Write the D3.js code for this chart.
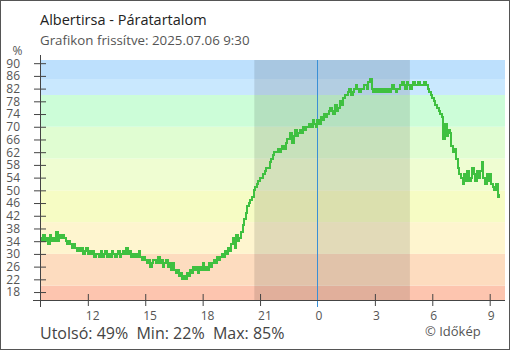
<!DOCTYPE html>
<html>
<head>
<meta charset="utf-8">
<script src="https://cdn.jsdelivr.net/npm/d3@7"></script>
<style>
  body { margin: 0; background: #fff; }
  text { font-family: "Open Sans", "Noto Sans", sans-serif; }
</style>
</head>
<body>
<script>
// humidity (%) every 5 minutes, 2025.07.05 9:30 -> 2025.07.06 9:30
const startHour = 9.5;
const stepHours = 1 / 12;
const humidity = [
  35, 34, 36, 34, 35, 33, 36, 34, 35, 34, 37, 34,   // 9:30
  36, 35, 36, 35, 34, 33, 34, 33, 32, 33, 32, 31,   // 10:30
  32, 31, 32, 30, 31, 32, 30, 31, 30, 31, 29, 30,   // 11:30
  30, 29, 31, 29, 30, 31, 29, 30, 29, 31, 30, 29,   // 12:30
  30, 31, 29, 30, 31, 30, 32, 30, 31, 29, 30, 29,   // 13:30
  30, 29, 31, 29, 28, 29, 28, 27, 28, 26, 27, 28,   // 14:30
  28, 27, 29, 27, 28, 26, 27, 28, 26, 27, 25, 27,   // 15:30
  25, 24, 25, 23, 24, 22, 23, 22, 24, 23, 25, 24,   // 16:30
  26, 25, 26, 24, 26, 25, 27, 25, 26, 25, 27, 26,   // 17:30
  27, 28, 27, 29, 28, 29, 30, 29, 31, 30, 32, 31,   // 18:30
  33, 35, 32, 36, 34, 35, 37, 39, 41, 43, 45, 46,   // 19:30
  47, 48, 50, 51, 52, 53, 54, 54, 55, 56, 57, 57,   // 20:30
  59, 60, 61, 62, 62, 63, 62, 63, 64, 63, 65, 66,   // 21:30
  66, 68, 65, 67, 69, 67, 68, 69, 68, 70, 69, 70,   // 22:30
  70, 71, 70, 72, 71, 70, 72, 71, 73, 72, 74, 73,   // 23:30
  74, 75, 76, 75, 74, 77, 75, 76, 78, 77, 79, 80,   // 0:30
  80, 81, 82, 80, 81, 82, 83, 82, 81, 82, 82, 83,   // 1:30
  83, 82, 84, 85, 82, 81, 82, 81, 82, 81, 82, 81,   // 2:30
  82, 81, 82, 81, 82, 83, 82, 81, 82, 82, 83, 84,   // 3:30
  83, 82, 84, 83, 82, 83, 84, 83, 83, 84, 83, 83,   // 4:30
  83, 84, 83, 82, 81, 80, 79, 78, 77, 76, 75, 74,   // 5:30
  73, 66, 71, 67, 69, 68, 64, 62, 63, 60, 57, 55,   // 6:30
  54, 52, 55, 53, 56, 53, 54, 57, 55, 53, 56, 54,   // 7:30
  56, 59, 54, 52, 55, 53, 55, 52, 51, 50, 52, 48,   // 8:30
  49                                                // 9:30
];

const xTickValues = [12, 15, 18, 21, 24, 27, 30, 33];
const xTickLabels = ["12", "15", "18", "21", "0", "3", "6", "9"];
const yTickValues = d3.range(18, 91, 4);

// colour bands behind the plot
const bandEdges = [15.5, 20, 30, 40, 50, 60, 70, 80, 85, 91];
const bandColors = ["#fdc5af", "#fddcbf", "#fef5cf", "#f6fcc4", "#effdd2",
                    "#e0fdd2", "#ccfdd8", "#c9e8fe", "#bde0fd"];

// night (sunset 20:42, sunrise 4:50)
const night = [20.7, 28.83];

const width = 510, height = 350;
const plotLeft = 40, plotRight = 505, plotTop = 60, plotBottom = 300;

const x = d3.scaleLinear().domain([9.5, 33.8]).range([plotLeft, plotRight]);
const y = d3.scaleLinear().domain([15.5, 91]).range([plotBottom, plotTop]);

const svg = d3.select("body").append("svg")
    .attr("width", width)
    .attr("height", height);

svg.append("rect")
    .attr("x", 0.5).attr("y", 0.5)
    .attr("width", width - 1).attr("height", height - 1)
    .attr("fill", "#fff").attr("stroke", "#555");

// bands
svg.append("g").selectAll("rect")
    .data(bandColors)
    .join("rect")
    .attr("x", plotLeft)
    .attr("width", plotRight - plotLeft)
    .attr("y", (d, i) => y(bandEdges[i + 1]))
    .attr("height", (d, i) => y(bandEdges[i]) - y(bandEdges[i + 1]))
    .attr("fill", d => d);

// night shading
svg.append("rect")
    .attr("x", x(night[0]))
    .attr("width", x(night[1]) - x(night[0]))
    .attr("y", plotTop)
    .attr("height", plotBottom - plotTop)
    .attr("fill", "rgba(0,0,0,0.11)");

// midnight line
svg.append("line")
    .attr("x1", Math.round(x(24)) + 0.5).attr("x2", Math.round(x(24)) + 0.5)
    .attr("y1", plotTop).attr("y2", plotBottom + 7)
    .attr("stroke", "#3a8fd6").attr("stroke-width", 1);

// humidity line
const line = d3.line()
    .x((d, i) => x(startHour + i * stepHours))
    .y(d => y(d))
    .curve(d3.curveStepAfter);

svg.append("path")
    .datum(humidity)
    .attr("fill", "none")
    .attr("stroke", "#3fc040")
    .attr("stroke-width", 2)
    .attr("shape-rendering", "crispEdges")
    .attr("d", line);

// y axis
const yAxis = svg.append("g")
    .attr("transform", "translate(" + plotLeft + ",0)")
    .call(d3.axisLeft(y).tickValues(yTickValues).tickSize(6).tickPadding(14));
yAxis.select(".domain").remove();
yAxis.selectAll(".tick line").attr("x1", -6).attr("x2", 6).attr("stroke", "#444");
yAxis.selectAll(".tick text")
    .attr("fill", "#555").style("font-size", "12px");

svg.append("line")
    .attr("x1", plotLeft + 0.5).attr("x2", plotLeft + 0.5)
    .attr("y1", 55).attr("y2", plotBottom + 7)
    .attr("stroke", "#444");

// x axis
const xAxis = svg.append("g")
    .attr("transform", "translate(0," + plotBottom + ")")
    .call(d3.axisBottom(x).tickValues(xTickValues)
        .tickFormat((d, i) => xTickLabels[i]).tickSize(6));
xAxis.select(".domain").remove();
xAxis.selectAll(".tick line").attr("y1", -6).attr("y2", 6).attr("stroke", "#444");
xAxis.selectAll(".tick").filter(d => d === 24).select("line").remove();
xAxis.selectAll(".tick text")
    .attr("text-anchor", "start").attr("x", -2.5)
    .attr("y", 11.5)
    .attr("fill", "#555").style("font-size", "12px");

svg.append("line")
    .attr("x1", 33).attr("x2", plotRight)
    .attr("y1", plotBottom + 0.5).attr("y2", plotBottom + 0.5)
    .attr("stroke", "#444");

svg.append("text")
    .attr("x", 12.5).attr("y", 55)
    .attr("fill", "#555").style("font-size", "12px")
    .text("%");

// titles
svg.append("text")
    .attr("x", 40).attr("y", 25)
    .attr("fill", "#222").style("font-size", "14.5px")
    .text("Albertirsa - Páratartalom");

svg.append("text")
    .attr("x", 40).attr("y", 45)
    .attr("fill", "#555").style("font-size", "13.3px")
    .text("Grafikon frissítve: 2025.07.06 9:30");

// summary
const last = humidity[humidity.length - 1];
svg.append("text")
    .attr("x", 40).attr("y", 339)
    .attr("fill", "#444").style("font-size", "16px")
    .attr("xml:space", "preserve")
    .text("Utolsó: " + last + "%  Min: " + d3.min(humidity) + "%  Max: " + d3.max(humidity) + "%");

svg.append("text")
    .attr("x", 425).attr("y", 336)
    .attr("fill", "#555").style("font-size", "13px")
    .text("© Időkép");
</script>
</body>
</html>
